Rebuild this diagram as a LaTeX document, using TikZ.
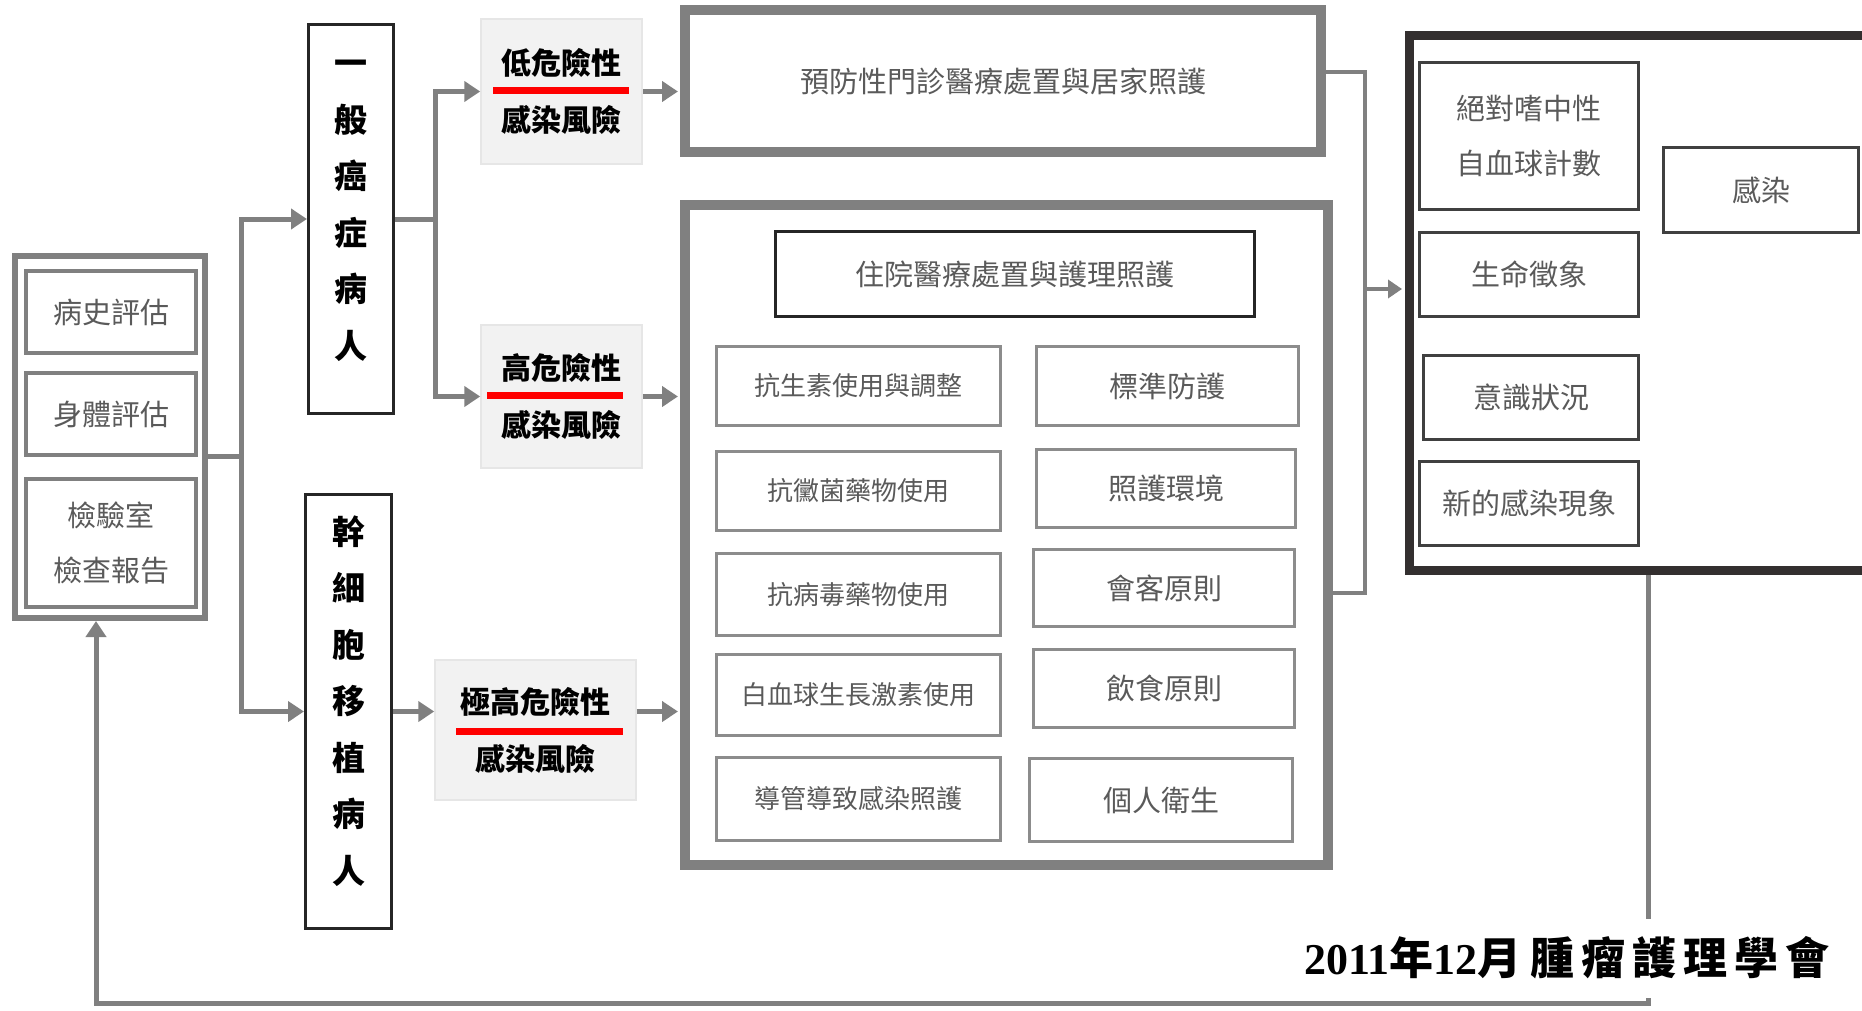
\documentclass[tikz,border=0pt]{standalone}
\usepackage{fontspec}
\setmainfont{Liberation Serif}
\newfontfamily\cjk{Noto Sans CJK TC}
\usetikzlibrary{arrows.meta}
\definecolor{lg}{HTML}{808080}
\definecolor{gb}{HTML}{8C8C8C}
\definecolor{txtg}{HTML}{5A5A5A}
\definecolor{dk}{HTML}{332F2F}
\definecolor{dk2}{HTML}{404040}
\definecolor{riskfill}{HTML}{F2F2F2}
\definecolor{riskedge}{HTML}{E6E6E6}
\tikzset{
  conn/.style={draw=lg, line width=5pt},
  arr/.style={conn, -{Triangle[length=16pt,width=20pt]}},
  thinconn/.style={draw=lg, line width=4pt},
  thinarr/.style={thinconn, -{Triangle[length=14pt,width=18pt]}},
  gtext/.style={font=\cjk\fontsize{29}{55}\selectfont, text=txtg, align=center},
  gtextsm/.style={font=\cjk\fontsize{26}{50}\selectfont, text=txtg, align=center},
  bigframe/.style={draw=lg, line width=10pt, fill=white, inner sep=0pt},
  grayframe/.style={draw=gb, line width=3pt, fill=white, inner sep=0pt},
  asframe/.style={draw=lg, line width=4pt, fill=white, inner sep=0pt},
  blackframe/.style={draw=black!85, line width=3pt, fill=white, inner sep=0pt},
  darkframe/.style={draw=dk2, line width=3pt, fill=white, inner sep=0pt},
  riskbox/.style={fill=riskfill, draw=riskedge, line width=1.5pt, inner sep=0pt,
    font=\cjk\bfseries\fontsize{30}{57}\selectfont, text=black, align=center},
  vtext/.style={font=\cjk\bfseries\fontsize{33}{56.5}\selectfont, text=black, align=center},
  redl/.style={draw=red, line width=7pt},
}
\begin{document}
\begin{tikzpicture}[x=1pt,y=-1pt]
\fill[white] (0,0) rectangle (1862,1011);
\useasboundingbox (0,0) rectangle (1862,1011);

% ---------------- left assessment ----------------
\node[draw=lg, line width=6pt, fill=white, minimum width=190pt, minimum height=362pt] (assess) at (110,437) {};
\node[asframe, minimum width=170pt, minimum height=82pt, gtext] (a1) at (111,312) {病史評估};
\node[asframe, minimum width=170pt, minimum height=82pt, gtext] (a2) at (111,414) {身體評估};
\node[asframe, minimum width=170pt, minimum height=128pt, gtext] (a3) at (111,543) {檢驗室\\檢查報告};

% ---------------- patient groups ----------------
\node[blackframe, minimum width=85pt, minimum height=389pt] (gen) at (351,219) {};
\node[vtext] (genT) at (351,211) {一\\般\\癌\\症\\病\\人};
\node[blackframe, minimum width=86pt, minimum height=434pt] (stem) at (348.5,711.5) {};
\node[vtext] (stemT) at (348.5,701) {幹\\細\\胞\\移\\植\\病\\人};

% ---------------- risk boxes ----------------
\node[riskbox, minimum width=161pt, minimum height=145pt] (low) at (561.5,91.5) {低危險性\\感染風險};
\node[riskbox, minimum width=161pt, minimum height=143pt] (high) at (561.5,396.5) {高危險性\\感染風險};
\node[riskbox, minimum width=201pt, minimum height=140pt] (vhigh) at (535.5,730) {極高危險性\\感染風險};
\draw[redl] (493,91) -- (629,91);
\draw[redl] (487,395) -- (623,395);
\draw[redl] (456,731) -- (623,731);

% ---------------- care boxes ----------------
\node[bigframe, minimum width=636pt, minimum height=142pt, gtext] (prev) at (1003,81) {預防性門診醫療處置與居家照護};
\node[bigframe, minimum width=643pt, minimum height=660pt] (hosp) at (1006.5,535) {};
\node[blackframe, minimum width=479pt, minimum height=85pt, gtext] (hospT) at (1015,274) {住院醫療處置與護理照護};

\node[grayframe, minimum width=284pt, minimum height=79pt, gtextsm] (l1) at (858.5,386) {抗生素使用與調整};
\node[grayframe, minimum width=284pt, minimum height=79pt, gtextsm] (l2) at (858.5,491) {抗黴菌藥物使用};
\node[grayframe, minimum width=284pt, minimum height=82pt, gtextsm] (l3) at (858.5,594.5) {抗病毒藥物使用};
\node[grayframe, minimum width=284pt, minimum height=81pt, gtextsm] (l4) at (858.5,695) {白血球生長激素使用};
\node[grayframe, minimum width=284pt, minimum height=83pt, gtextsm] (l5) at (858.5,799) {導管導致感染照護};

\node[grayframe, minimum width=262pt, minimum height=79pt, gtext] (r1) at (1167.5,386) {標準防護};
\node[grayframe, minimum width=259pt, minimum height=78pt, gtext] (r2) at (1166,488.5) {照護環境};
\node[grayframe, minimum width=261pt, minimum height=77pt, gtext] (r3) at (1164,588) {會客原則};
\node[grayframe, minimum width=261pt, minimum height=78pt, gtext] (r4) at (1164,688.5) {飲食原則};
\node[grayframe, minimum width=263pt, minimum height=83pt, gtext] (r5) at (1161,800) {個人衛生};

% ---------------- monitoring box ----------------
\node[draw=dk, line width=9pt, fill=white, minimum width=456.5pt, minimum height=535pt] (mon) at (1637.75,303) {};
\node[darkframe, minimum width=219pt, minimum height=147pt, gtext] (anc) at (1529,136) {絕對嗜中性\\自血球計數};
\node[darkframe, minimum width=219pt, minimum height=84pt, gtext] (vital) at (1529,274.5) {生命徵象};
\node[darkframe, minimum width=215pt, minimum height=84pt, gtext] (cons) at (1531,397.5) {意識狀況};
\node[darkframe, minimum width=219pt, minimum height=84pt, gtext] (newinf) at (1529,503.5) {新的感染現象};
\node[darkframe, minimum width=195pt, minimum height=85pt, gtext] (inf) at (1761,190) {感染};

% ---------------- connectors ----------------
\coordinate (j1) at (241,456);
\draw[conn] (assess.east |- j1) -- (j1);
\draw[arr] (j1) |- (gen.west);
\draw[arr] (j1) |- (stem.west);

\coordinate (j2) at (435,219);
\draw[conn] (gen.east |- j2) -- (j2);
\draw[arr] (j2) |- (low.west);
\draw[arr] (j2) |- (high.west);

\draw[arr] (stem.east) -- (stem.east -| vhigh.west);
\draw[arr, shorten >=2pt] (low.east) -- (low.east -| prev.west);
\draw[arr, shorten >=2pt] (high.east) -- (high.east -| hosp.west);
\draw[arr, shorten >=2pt] (vhigh.east |- stem.east) -- (hosp.west |- stem.east);

\coordinate (rc1) at (1365,72);
\coordinate (rc2) at (1365,593);
\coordinate (rc3) at (1365,289);
\draw[thinconn] (prev.east |- rc1) -- (rc1) -- (rc2) -- (hosp.east |- rc2);
\draw[thinarr, shorten >=3pt] (rc3) -- (rc3 -| mon.west);

% feedback loop
\coordinate (fb1) at (1648,1003);
\coordinate (fb2) at (96,1003);
\draw[arr, line width=5pt] (mon.south -| fb1) -- (fb1) -- (fb2) -- (fb2 |- assess.south);

% footer
\node[fill=white, inner xsep=6pt, minimum height=79pt, text=black] (foot) at (1567,958)
  {\bfseries\fontsize{44}{44}\selectfont 2011{\cjk\bfseries 年}12{\cjk\bfseries 月\hspace{9pt}腫\hspace{7pt}瘤\hspace{7pt}護\hspace{7pt}理\hspace{7pt}學\hspace{7pt}會}};
\end{tikzpicture}
\end{document}
